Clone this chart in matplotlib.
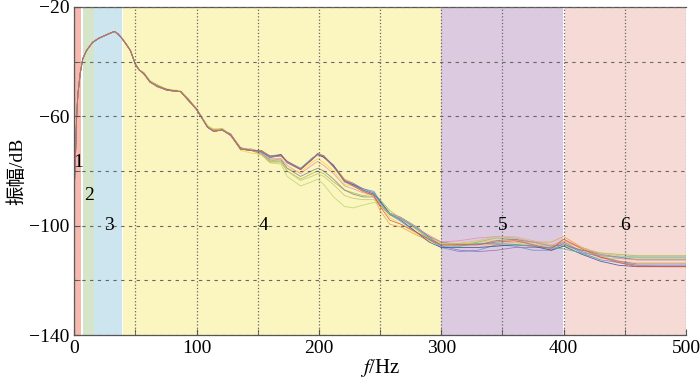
import matplotlib
matplotlib.use("Agg")
import matplotlib.pyplot as plt
from matplotlib.ticker import MultipleLocator
import numpy as np

plt.rcParams["font.family"] = ["Liberation Serif", "Noto Sans CJK SC"]
plt.rcParams["mathtext.fontset"] = "stix"

# frecuencias (Hz)
freq = [0, 1, 2, 3, 5, 7, 10, 15, 20, 25, 30, 33, 36, 39, 43, 46, 50,
        53, 57, 62, 68, 76, 87, 93, 100, 109, 114, 121, 128, 136, 145,
        153, 160, 169, 174, 185, 194, 199, 204, 212, 221, 228, 236, 245, 250, 258, 267,
        280, 290, 300, 315, 330, 345, 360, 375, 390, 400, 415, 430, 445, 460, 480, 500]

# curva central (dB)
base_db = [-87, -75, -60, -52, -44, -39, -36, -33, -31.5, -30.5, -29.5, -29, -30, -31.5, -34, -36, -41,
           -43, -44.5, -47.5, -49, -50.5, -51, -54, -57.5, -64, -65.5, -65, -67, -72, -72.5,
           -73, -75, -74.5, -77, -79.5, -76, -74, -75, -78.5, -84, -85.5, -87.5, -88.5, -91.5, -95.5, -97.5,
           -101.5, -104.5, -107, -107.5, -107, -106, -106, -107, -108, -106.5, -109, -111, -112, -112.5, -112.5, -112.5]

# desviacion de cada medida respecto a la curva central (dB)
spread = [
    [0, 0, 0, 0, 0, 0, 0, 0, 0, 0, 0, 0, 0, 0, 0, 0, 0,
     0, 0, 0.3, 0, 0, 0.2, 0, 0, 0.5, 0.5, 0, 0.5, 0.5, 0,
     0.5, 0, 0.5, 0.5, 0, 0, 0.3, 0, 0.5, 1, 1, 0.5, -1, -3, -4, -3,
     -2, -1, 0, 1, 0.5, -1, 0, 1, 2, 2.5, 1, 0, -1, -2, -2.5, -2.5],
    [0, 0, 0, 0, 0, 0, 0, 0, 0, 0, 0, 0, 0, 0, 0, 0, 0,
     0, 0.3, 0, 0.5, 0.5, 0.3, 0.5, 0.5, 0, 1, 0.5, 0, -0.5, -1,
     -1, -1.5, -1, -2, -1, -1, -1.5, -2, -1.5, -1, 0, 0, -0.5, -1, -1.5, -2,
     -1.5, -1, 0, 0.5, 1, 0.5, 0, -1, 0, 1, 0.5, -0.5, -1, -1, -1, -1],
    [0, 0, 0, 0, 0, 0, 0, 0, 0, 0, 0, 0, 0, 0, 0, 0, 0,
     0, 0.5, 0.5, 0.5, 0, 0, 0, 0, 0.5, 0.5, 0.5, 0, 0, 0,
     -1, -1.5, -2, -3, -3.5, -5, -6, -6, -5.5, -3, -2.5, -1.5, 0, 1, 1, 0,
     0, -0.5, 0, 0, 1, 1.5, 1, 0, -1, -1, 0, 1, 1.5, 1.5, 1.5, 1.5],
    [0, 0, 0, 0, 0, 0, 0, 0, 0, 0, 0, 0, 0, 0, 0, 0, 0,
     0, 0, 0.3, 0.3, 0, 0, 0, 0, 0.5, 0, 0.5, 0, 0.5, 0,
     -1, -2, -3, -5, -6, -8, -9, -10, -11, -9, -8, -5, -3, -1, 0, 0.5,
     0, 0, 0.5, -0.5, -1, -1.5, -1, 0, 0.5, -1, -1.5, -1, 0, 0.5, 0.5, 0.5],
    [0, 0, 0, 0, 0, 0, 0, 0, 0, 0, 0, 0, 0, 0, 0, 0, 0,
     0, 0, 0, 0, 0, 0, 0, 0, 0, 0, 0, 0, 0, 0,
     0, 0.5, 0.5, 0.5, 0.5, 0, 0, 0.5, 0.5, 0.5, 0.5, 1, 1, 0.5, -0.5, -1,
     -1, -0.5, -1, -2, -2, -1, -1.5, -2, -1, 0, -1, -1.5, -1.5, -2, -2, -2],
    [0, 0, 0, 0, 0, 0, 0, 0, 0, 0, 0, 0, 0, 0, 0, 0, 0,
     0, 0, 0, -0.3, 0, 0, 0, 0.3, 0, 0, 0, 0.5, 0, 0.5,
     0, 0, 0, 0.5, 0.3, 0, 0, 0, 0, 0.5, 1, 1, 0.5, 0, 0, 0.5,
     1, 0.5, -0.5, -1.5, -2.5, -3, -2, -1, 0, 0.5, -0.5, -0.5, -1, -1.5, -1.5, -1.5],
    [0, 0, 0, 0, 0, 0, 0, 0, 0, 0, 0, 0, 0, 0, 0, 0, 0,
     0, 0, 0, 0, 0, 0, 0.5, 0, 0, 0, 0, 0, 0.5, 0,
     -0.5, -1, -1.5, -2, -2.5, -4, -5, -5, -4.5, -3, -3, -2, -1, -1, -0.5, 0,
     0.5, 0.5, 1, 0.5, 0, 0.5, 1, 1, 0.5, -0.5, 0, 0.5, 0.5, 0, 0, 0],
    [0, 0, 0, 0, 0, 0, 0, 0, 0, 0, 0, 0, 0, 0, 0, 0, 0,
     0, 0, 0, 0, 0, 0, 0, 0, 0, 0.5, 0, 0, 0, 0,
     -0.5, -0.5, -1, -1, -1.5, -2, -2.5, -3, -2.5, -1.5, -1, -0.5, 0, -0.5, 0, 0.5,
     0.5, 1, 1, 2, 2.5, 2, 1.5, 1, 0.5, 1.5, 1, 0.5, 0, 0, 0, 0],
    [0, 0, 0, 0, 0, 0, 0, 0, 0, 0, 0, 0, 0, 0, 0, 0, 0,
     0, 0, 0, 0, 0.3, 0, 0, 0, 0, 0, 0, 0, 0, 0,
     0, 0, 0.5, 0, 0, 0.5, 0, 0, 0.5, 0, 0.5, 0.5, 0, 0.5, 0, -0.5,
     -1, -1.5, -1, -0.5, -1, -1.5, -1, -0.5, -1, -1, -1.5, -2, -2.5, -2.5, -2.5, -2.5],
    [0, 0, 0, 0, 0, 0, 0, 0, 0, 0, 0, 0, 0, 0, 0, 0, 0,
     0, 0, 0, 0, 0, 0, 0, 0, 0.5, 0, 0, 0, 0, 0.5,
     -1, -2, -2.5, -3, -4, -6, -7, -7, -6.5, -5, -4.5, -3, -2, -1, 0, 0,
     0, 0, 0.5, 1, 1.5, 2, 2, 1.5, 1, 0.5, 1, 1, 1, 1, 1, 1],
    [0, 0, 0, 0, 0, 0, 0, 0, 0, 0, 0, 0, 0, 0, 0, 0, 0,
     0, 0, 0, 0, 0, 0, 0, 0, 0, 0, 0, 0, 0, 0,
     0, 0, 0, 0, 0.5, 0.5, 0, 0.5, 0, 0, 0, 0.5, 0.5, 0, -0.5, 0,
     0.5, 0, -0.5, 0, 0.5, -0.5, -1, -0.5, 0, -2, -1, 0, 0.5, 1, 1, 1],
    [0, 0, 0, 0, 0, 0, 0, 0, 0, 0, 0, 0, 0, 0, 0, 0, 0,
     0, 0, 0, 0, 0, 0, 0, 0, 0, 0, 0, 0, 0, 0,
     0.5, 0.5, 0, 0.5, 0, 0, 0.5, 0.5, 0, 0.5, 0, 0, -0.5, -1.5, -2.5, -2,
     -1, -0.5, 0, 0.5, 0, 0, 0.5, 0, -0.5, 1.5, 0.5, -0.5, -1.5, -2.5, -2.5, -2.5],
]

line_colors = ["#e8a33c", "#f2d04a", "#9dbd4e", "#b7d66b", "#5b8fd0", "#9a6bb5",
               "#7f7f7f", "#e68fa6", "#3b4d9a", "#c9c26a", "#52b3b8", "#e8524a"]

# zonas de frecuencia
band_start = [0, 7, 16, 40, 300, 400.8]
band_end = [5.5, 16, 39.2, 300, 399.2, 500]
band_colors = ["#f7b8b0", "#d5e5c9", "#cde5ee", "#fbf5c0", "#dccbe0", "#f6dad5"]
band_labels = ["1", "2", "3", "4", "5", "6"]
label_x = [3, 12, 28, 155, 350, 450]
label_y = [-77, -89, -100, -100, -100, -100]

fig, ax = plt.subplots(figsize=(7, 3.82), dpi=100)
fig.subplots_adjust(left=0.106, right=0.98, top=0.982, bottom=0.123)

for x0, x1, c in zip(band_start, band_end, band_colors):
    ax.axvspan(x0, x1, color=c, lw=0, zorder=0)

for dev, c in zip(spread, line_colors):
    ax.plot(freq, np.array(base_db) + np.array(dev), color=c, lw=0.6, alpha=0.85, zorder=2)

for lab, x, y in zip(band_labels, label_x, label_y):
    ax.text(x, y, lab, fontsize=14, ha="center", va="center", zorder=3)

ax.set_xlim(0, 500)
ax.set_ylim(-140, -20)
ax.xaxis.set_major_locator(MultipleLocator(100))
ax.xaxis.set_minor_locator(MultipleLocator(50))
ax.yaxis.set_minor_locator(MultipleLocator(20))
ax.set_yticks([-20, -60, -100, -140])
ax.set_yticklabels(["\u221220", "\u221260", "\u2212100", "\u2212140"])
ax.tick_params(which="both", direction="in", labelsize=14, color="#555555", length=4)

ax.grid(True, which="both", axis="x", color="#666666", ls=":", lw=0.9, zorder=1)
ax.grid(True, which="both", axis="y", color="#666666", ls=(0, (3, 4)), lw=0.8, zorder=1)
ax.set_axisbelow(False)

for side in ["top", "bottom", "left"]:
    ax.spines[side].set_color("#555555")
    ax.spines[side].set_linewidth(0.9)
ax.spines["right"].set_visible(False)

ax.set_xlabel("$f$/Hz", fontsize=15, labelpad=0)
ax.set_ylabel("振幅/dB", fontsize=14, labelpad=2)

plt.savefig("out.png", dpi=100)
